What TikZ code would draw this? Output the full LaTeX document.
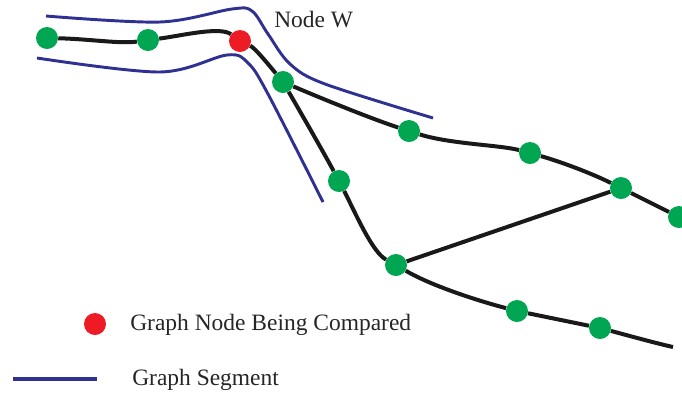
\documentclass[tikz,border=0pt]{standalone}
\usepackage{fontspec}
\setmainfont{Liberation Serif}
\usetikzlibrary{backgrounds}
\definecolor{gnode}{HTML}{00A651}
\definecolor{rnode}{HTML}{ED1C24}
\definecolor{segblue}{HTML}{2E3192}
\tikzset{
  gn/.style={circle,fill=gnode,inner sep=0pt,minimum size=16.5pt},
  rn/.style={circle,fill=rnode,inner sep=0pt,minimum size=16.5pt},
  edge/.style={draw=black!90,line width=3pt},
  seg/.style={draw=segblue,line width=2.2pt},
  lbl/.style={font=\fontsize{17.6}{20}\selectfont,text=black!85,inner sep=0pt}
}
\begin{document}
\begin{tikzpicture}[x=0.75pt,y=-0.75pt]
\useasboundingbox (0,0) rectangle (682,394);
% nodes
\node[gn] (n1) at (47,38) {};
\node[gn] (n2) at (148,40) {};
\node[rn] (w) at (240,41) {};
\node[gn] (n3) at (283,82) {};
\node[gn] (n4) at (409,131) {};
\node[gn] (n5) at (530,153) {};
\node[gn] (n6) at (621,188) {};
\node[gn] (n7) at (679,217) {};
\node[gn] (n8) at (339,181) {};
\node[gn] (n9) at (396,265) {};
\node[gn] (n10) at (517,311) {};
\node[gn] (n11) at (600,328) {};
\coordinate (e1) at (673,347);
\node[lbl,anchor=west] (nw) at (274,20) {Node W};
% legend
\node[rn] (lr) at (95,324) {};
\node[lbl,anchor=west] (lt1) at (130,325) {Graph Node Being Compared};
\coordinate (ls1) at (13,379);
\coordinate (ls2) at (97,379);
\node[lbl,anchor=west] (lt2) at (132,380) {Graph Segment};
\draw[seg,line width=2.6pt] (ls1) -- (ls2);
\begin{pgfonlayer}{background}
% blue segment outlines
\draw[seg] plot[smooth,tension=0.55] coordinates {(46,16) (160,22) (232,9) (252,11) (268,34) (290,64) (325,84) (433,118)};
\draw[seg] plot[smooth,tension=0.55] coordinates {(37,58) (160,72) (227,55) (248,63) (268,94) (323,202)};
% black graph edges
\draw[edge] (n1) .. controls (90,39) and (120,44) .. (n2);
\draw[edge] (n2) .. controls (180,36) and (220,26) .. (w);
\draw[edge] (w) .. controls (255,48) and (268,64) .. (n3);
\draw[edge] (n3) .. controls (305,120) and (325,155) .. (n8);
\draw[edge] (n8) .. controls (355,212) and (372,252) .. (n9);
\draw[edge] (n3) .. controls (330,102) and (375,120) .. (n4);
\draw[edge] (n4) .. controls (450,144) and (500,145) .. (n5);
\draw[edge] (n5) .. controls (565,163) and (595,175) .. (n6);
\draw[edge] (n6) -- (n7);
\draw[edge] (n9) -- (n6);
\draw[edge] (n9) .. controls (430,285) and (475,300) .. (n10);
\draw[edge] (n10) -- (n11);
\draw[edge] (n11) .. controls (630,336) and (655,343) .. (e1);
\end{pgfonlayer}
\end{tikzpicture}
\end{document}
